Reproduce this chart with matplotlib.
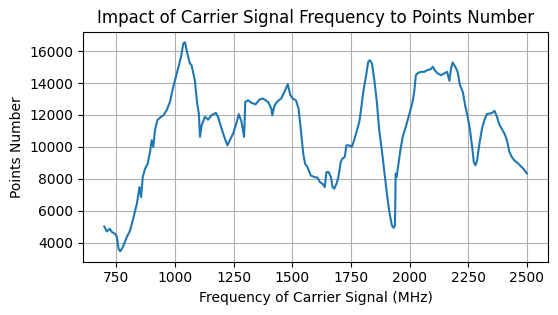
import numpy as np
import matplotlib.pyplot as plt

freq = [699, 710, 722, 732, 746, 753, 760, 767, 778, 795, 809, 824, 838, 849, 856, 863,
        873, 884, 894, 901, 908, 915, 925, 937, 951, 965, 979, 993, 1008, 1019, 1026,
        1036, 1043, 1053, 1064, 1071, 1085, 1095, 1102, 1107, 1114, 1128, 1142, 1156,
        1175, 1184, 1199, 1213, 1224, 1234, 1248, 1262, 1272, 1283, 1295, 1300, 1312,
        1326, 1344, 1361, 1375, 1397, 1411, 1415, 1425, 1439, 1453, 1467, 1481, 1492,
        1502, 1516, 1527, 1537, 1547, 1555, 1565, 1579, 1593, 1608, 1618, 1629, 1639,
        1646, 1655, 1665, 1672, 1679, 1689, 1697, 1707, 1714, 1724, 1731, 1743, 1754,
        1764, 1774, 1786, 1793, 1803, 1814, 1824, 1831, 1840, 1850, 1860, 1871, 1882,
        1892, 1902, 1911, 1918, 1925, 1932, 1938, 1941, 1945, 1952, 1961, 1971, 1982,
        1992, 2002, 2013, 2020, 2027, 2037, 2049, 2063, 2077, 2091, 2099, 2109, 2120,
        2134, 2148, 2160, 2170, 2177, 2184, 2195, 2205, 2215, 2227, 2237, 2248, 2258,
        2267, 2274, 2281, 2288, 2298, 2309, 2319, 2329, 2341, 2352, 2362, 2372, 2384,
        2395, 2405, 2415, 2426, 2436, 2447, 2461, 2475, 2485, 2500]
points = [5020, 4710, 4880, 4670, 4560, 4355, 3620, 3470, 3730, 4355, 4770, 5610, 6450,
          7490, 6860, 8120, 8640, 8950, 9680, 10420, 10000, 11040, 11670, 11840, 11980,
          12300, 12820, 13760, 14600, 15220, 15640, 16480, 16550, 15850, 15220, 15120,
          14180, 12720, 12090, 10630, 11360, 11880, 11710, 11980, 12130, 11880, 11150,
          10520, 10100, 10420, 10830, 11460, 12050, 11630, 10630, 12820, 12920, 12760,
          12670, 12970, 13030, 12820, 12400, 11980, 12610, 12880, 13030, 13450, 13930,
          13240, 13030, 12920, 12400, 11040, 9580, 8950, 8740, 8220, 8120, 8080, 7800,
          7700, 7490, 8430, 8430, 8120, 7490, 7390, 7700, 8120, 9060, 9270, 9370, 10100,
          10100, 10000, 10420, 10940, 11570, 12300, 13450, 14390, 15330, 15430, 15220,
          14180, 12920, 11040, 9790, 8540, 7280, 6240, 5610, 5090, 4940, 5090, 8330,
          8120, 8850, 9790, 10630, 11150, 11670, 12190, 12820, 13450, 14490, 14640, 14700,
          14700, 14810, 14870, 15020, 14770, 14600, 14490, 14600, 14700, 14140, 14910,
          15290, 15020, 14700, 13860, 13450, 12610, 11880, 11040, 10000, 9060, 8850, 9160,
          10210, 11150, 11670, 12050, 12090, 12130, 12260, 11920, 11360, 11090, 10830,
          10420, 9680, 9370, 9160, 8990, 8790, 8640, 8350]

fig = plt.figure(figsize=(5.58, 3.15), dpi=100)
ax = fig.add_axes([0.149, 0.169, 0.833, 0.730])
ax.plot(freq, points, color="C0")
ax.set_xticks([750, 1000, 1250, 1500, 1750, 2000, 2250, 2500])
ax.set_yticks([4000, 6000, 8000, 10000, 12000, 14000, 16000])
ax.grid(True)
ax.set_title("Impact of Carrier Signal Frequency to Points Number")
ax.set_xlabel("Frequency of Carrier Signal (MHz)")
ax.set_ylabel("Points Number")
plt.savefig("out.png", dpi=100)
